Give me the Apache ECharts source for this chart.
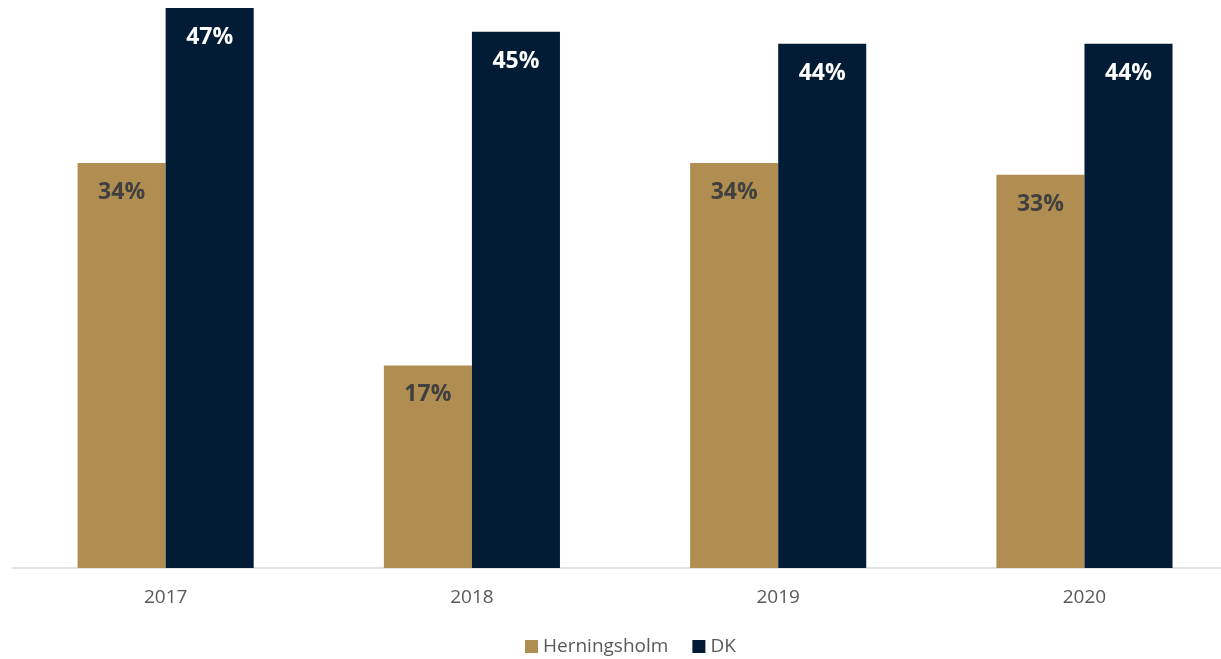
<!DOCTYPE html>
<html>
<head>
<meta charset="utf-8">
<script src="https://cdn.jsdelivr.net/npm/echarts@6/dist/echarts.min.js"></script>
<style>html,body{margin:0;padding:0;background:#fff;overflow:hidden;}#c{width:1240px;height:659px;}</style>
</head>
<body>
<div id="c"></div>
<script>
const categories = ['2017', '2018', '2019', '2020'];
const herningsholm = [34, 17, 34, 33];
const dk = [47, 45, 44, 44];
const seriesNames = ['Herningsholm', 'DK'];

const chart = echarts.init(document.getElementById('c'));
const font = '"Open Sans", "Liberation Sans", sans-serif';
chart.setOption({
  animation: false,
  textStyle: { fontFamily: font },
  grid: { left: 12.5, right: 2.4, top: 8, bottom: 91, containLabel: false },
  legend: {
    data: seriesNames,
    bottom: 3,
    left: 525,
    padding: 0,
    itemWidth: 13,
    itemHeight: 13,
    itemGap: 24,
    icon: 'rect',
    textStyle: { color: '#595959', fontSize: 19, fontFamily: font }
  },
  xAxis: {
    type: 'category',
    data: categories,
    axisLine: { lineStyle: { color: '#D9D9D9', width: 1.5 } },
    axisTick: { show: false },
    axisLabel: { color: '#595959', fontSize: 19, margin: 20, fontFamily: font }
  },
  yAxis: {
    type: 'value',
    min: 0,
    max: 47,
    show: false,
    splitLine: { show: false }
  },
  series: [
    {
      name: seriesNames[0],
      type: 'bar',
      data: herningsholm,
      barGap: '0%',
      barCategoryGap: '42.5%',
      itemStyle: { color: '#B08D50' },
      label: {
        show: true, position: 'insideTop', distance: 18,
        formatter: '{c}%', color: '#404040', fontSize: 23, fontWeight: 'bold', fontFamily: font
      }
    },
    {
      name: seriesNames[1],
      type: 'bar',
      data: dk,
      barGap: '0%',
      barCategoryGap: '42.5%',
      itemStyle: { color: '#021C36' },
      label: {
        show: true, position: 'insideTop', distance: 18,
        formatter: '{c}%', color: '#FFFFFF', fontSize: 23, fontWeight: 'bold', fontFamily: font
      }
    }
  ]
});
</script>
</body>
</html>
